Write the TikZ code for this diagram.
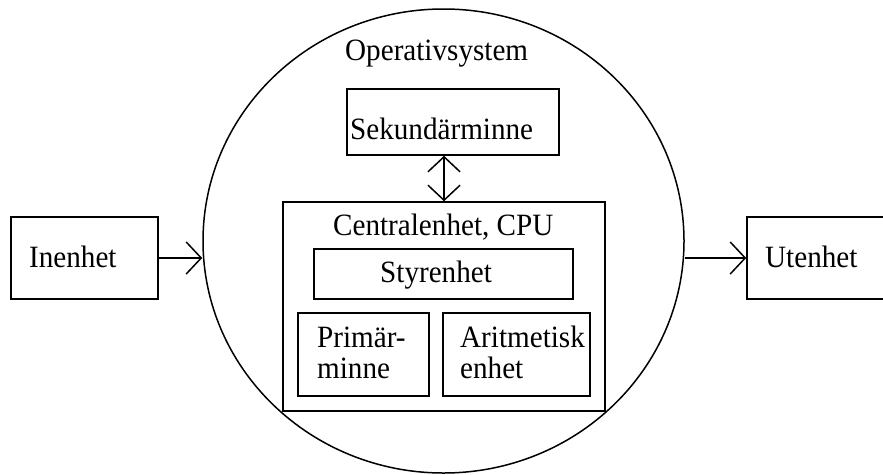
\documentclass[tikz,border=0pt]{standalone}
\usepackage{fontspec}
\setmainfont[FakeStretch=0.94]{Liberation Serif}
\usetikzlibrary{arrows.meta,shapes.geometric}
\begin{document}
\begin{tikzpicture}[x=1pt,y=-1pt,
  lw/.style={line width=1.5pt},
  boxnode/.style={draw,lw,inner sep=0pt,rectangle},
  txt/.style={inner sep=0pt,anchor=base west,font=\fontsize{31}{33}\selectfont},
  arr/.style={lw,-{Straight Barb[length=15pt,width=32pt,line width=1.5pt]}},
  darr/.style={lw,{Straight Barb[length=15pt,width=32pt,line width=1.5pt]}-{Straight Barb[length=15pt,width=32pt,line width=1.5pt]}}]
\useasboundingbox (0,0) rectangle (883,474);
% outer ellipse
\node[draw,lw,ellipse,inner sep=0pt,minimum width=481pt,minimum height=464pt] (os) at (443.5,241) {};
% boxes
\node[boxnode,minimum width=147pt,minimum height=82pt] (in) at (84.5,258) {};
\node[boxnode,minimum width=160pt,minimum height=82pt] (out) at (827,258) {};
\node[boxnode,minimum width=212pt,minimum height=66pt] (sek) at (453,122) {};
\node[boxnode,minimum width=322pt,minimum height=209pt] (cpu) at (444,306.5) {};
\node[boxnode,minimum width=259pt,minimum height=50pt] (styr) at (443.5,274) {};
\node[boxnode,minimum width=131pt,minimum height=83pt] (prim) at (363.5,354.5) {};
\node[boxnode,minimum width=147pt,minimum height=83pt] (arit) at (516.5,354.5) {};
% texts
\node[txt] (tos) at (345,60) {Operativsystem};
\node[txt] (tsek) at (350,139) {Sekundärminne};
\node[txt] (tcpu) at (333,235) {Centralenhet, CPU};
\node[txt] (tstyr) at (380,282) {Styrenhet};
\node[txt] (tprim1) at (317,347) {Primär-};
\node[txt] (tprim2) at (317,378) {minne};
\node[txt] (tarit1) at (460,347) {Aritmetisk};
\node[txt] (tarit2) at (460,378) {enhet};
\node[txt] (tin) at (29,267) {Inenhet};
\node[txt] (tout) at (765,267) {Utenhet};
% connectors
\draw[arr] (in.east) -- (in.east -| os.west);
\draw[arr] (out.west -| os.east) -- (out.west);
\draw[darr] (sek.south -| cpu.north) -- (cpu.north);
\end{tikzpicture}
\end{document}
